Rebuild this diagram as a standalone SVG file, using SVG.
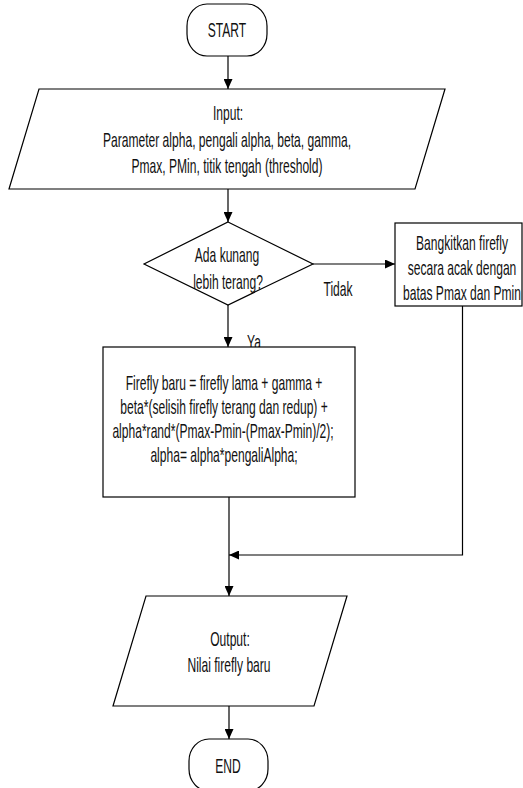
<svg xmlns="http://www.w3.org/2000/svg" width="523" height="788" viewBox="0 0 523 788">
<style>
.s{fill:#fff;stroke:#000;stroke-width:1.2}
.c{fill:none;stroke:#000;stroke-width:1.2}
text{font-family:"Liberation Sans",Arial,sans-serif;font-size:21px;fill:#111;text-anchor:middle}
</style>
<defs>
<marker id="ah" markerUnits="userSpaceOnUse" markerWidth="10" markerHeight="9" refX="10" refY="4.5" orient="auto">
<path d="M0,0 L10,4.5 L0,9 z" fill="#000"/>
</marker>
</defs>
<g id="connectors">
<line class="c" x1="228" y1="56" x2="228" y2="89" marker-end="url(#ah)"/>
<line class="c" x1="228" y1="189" x2="228" y2="222" marker-end="url(#ah)"/>
<line class="c" x1="313" y1="264" x2="395" y2="264" marker-end="url(#ah)"/>
<text transform="translate(338,296) scale(0.575,1)">Tidak</text>
<line class="c" x1="228" y1="305" x2="228" y2="347" marker-end="url(#ah)"/>
<text transform="translate(254,349) scale(0.575,1)">Ya</text>
<line class="c" x1="229" y1="497" x2="229" y2="596" marker-end="url(#ah)"/>
<polyline class="c" points="462.5,306 462.5,555 229,555" marker-end="url(#ah)"/>
<line class="c" x1="229" y1="706" x2="229" y2="739" marker-end="url(#ah)"/>
</g>
<g id="start">
<rect class="s" x="187" y="4" width="80" height="52" rx="20" ry="22"/>
<text transform="translate(227,37) scale(0.575,1)">START</text>
</g>
<g id="input">
<polygon class="s" points="39,89 445,89 415,189 9,189"/>
<text transform="translate(228,120) scale(0.575,1)">Input:</text>
<text transform="translate(227,147) scale(0.575,1)">Parameter alpha, pengali alpha, beta, gamma,</text>
<text transform="translate(227,173) scale(0.575,1)">Pmax, PMin, titik tengah (threshold)</text>
</g>
<g id="decision">
<polygon class="s" points="228,222 313,264 228,305 144,264"/>
<text transform="translate(227,262) scale(0.575,1)">Ada kunang</text>
<text transform="translate(228,289) scale(0.575,1)">lebih terang?</text>
</g>
<g id="generate">
<rect class="s" x="395" y="223" width="127" height="83"/>
<text transform="translate(462,250) scale(0.575,1)">Bangkitkan firefly</text>
<text transform="translate(462,275) scale(0.575,1)">secara acak dengan</text>
<text transform="translate(462,300) scale(0.575,1)">batas Pmax dan Pmin</text>
</g>
<g id="update">
<rect class="s" x="103" y="347" width="252" height="150"/>
<text transform="translate(224,390) scale(0.575,1)">Firefly baru = firefly lama + gamma +</text>
<text transform="translate(224,414) scale(0.575,1)">beta*(selisih firefly terang dan redup) +</text>
<text transform="translate(223,438) scale(0.575,1)">alpha*rand*(Pmax-Pmin-(Pmax-Pmin)/2);</text>
<text transform="translate(224,462) scale(0.575,1)">alpha= alpha*pengaliAlpha;</text>
</g>
<g id="output">
<polygon class="s" points="146,596 347,596 314,706 113,706"/>
<text transform="translate(230,646) scale(0.575,1)">Output:</text>
<text transform="translate(229,672) scale(0.575,1)">Nilai firefly baru</text>
</g>
<g id="end">
<rect class="s" x="189" y="739" width="79" height="52" rx="20" ry="22"/>
<text transform="translate(228,773) scale(0.575,1)">END</text>
</g>
</svg>
